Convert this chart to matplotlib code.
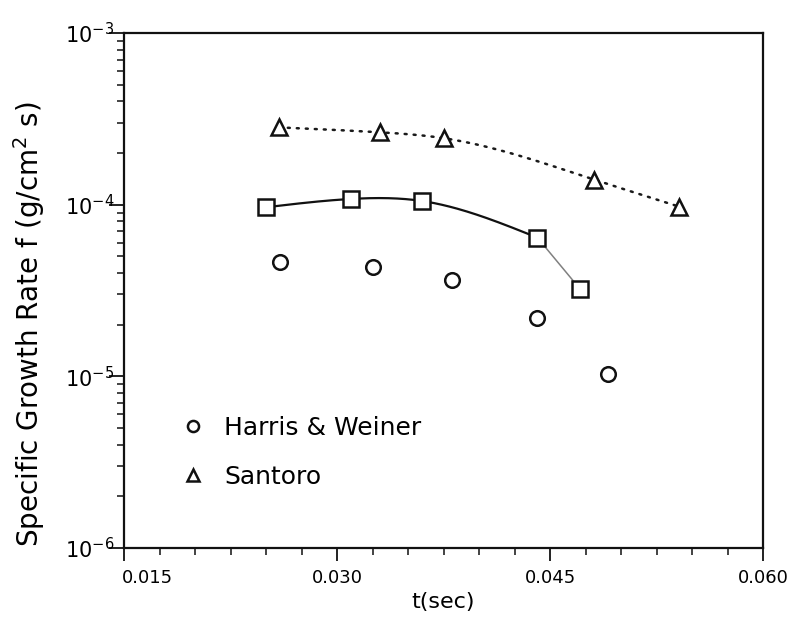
import numpy as np
import matplotlib
matplotlib.use("Agg")
import matplotlib.pyplot as plt
from matplotlib.lines import Line2D
from matplotlib.ticker import FixedLocator, LogLocator, NullFormatter
from matplotlib.transforms import ScaledTranslation

# Specific growth rate f (g/cm^2 s) versus time t (sec)
t_harris = [0.0260, 0.0325, 0.0381, 0.0441, 0.0491]
f_harris = [4.62e-5, 4.35e-5, 3.63e-5, 2.18e-5, 1.03e-5]

t_santoro = [0.0259, 0.0330, 0.0375, 0.0481, 0.0541]
f_santoro = [2.82e-4, 2.64e-4, 2.44e-4, 1.40e-4, 9.73e-5]

t_square = [0.0250, 0.0310, 0.0360, 0.0441, 0.0471]
f_square = [9.66e-5, 1.08e-4, 1.05e-4, 6.43e-5, 3.23e-5]

x_ticks = [0.015, 0.030, 0.045, 0.060]
x_ticklabels = ["0.015", "0.030", "0.045", "0.060"]
y_ticks = [1e-6, 1e-5, 1e-4, 1e-3]
y_ticklabels = [r"10$^{-6}$", r"10$^{-5}$", r"10$^{-4}$", r"10$^{-3}$"]


def natural_spline(xs, ys, n=60):
    """Natural cubic spline through the points in (x, log10 y)."""
    x = np.asarray(xs, float)
    y = np.log10(np.asarray(ys, float))
    m = len(x)
    h = np.diff(x)
    A = np.zeros((m, m))
    r = np.zeros(m)
    A[0, 0] = A[-1, -1] = 1.0
    for i in range(1, m - 1):
        A[i, i - 1] = h[i - 1]
        A[i, i] = 2 * (h[i - 1] + h[i])
        A[i, i + 1] = h[i]
        r[i] = 6 * ((y[i + 1] - y[i]) / h[i] - (y[i] - y[i - 1]) / h[i - 1])
    M = np.linalg.solve(A, r)
    xs_out, ys_out = [], []
    for i in range(m - 1):
        xx = np.linspace(x[i], x[i + 1], n)
        a = (x[i + 1] - xx) / h[i]
        b = (xx - x[i]) / h[i]
        yy = (a * y[i] + b * y[i + 1] +
              ((a ** 3 - a) * M[i] + (b ** 3 - b) * M[i + 1]) * h[i] ** 2 / 6)
        xs_out.append(xx)
        ys_out.append(10 ** yy)
    return np.concatenate(xs_out), np.concatenate(ys_out)


plt.rcParams["font.family"] = ["DejaVu Sans"]
fig = plt.figure(figsize=(8.0, 6.24), dpi=100)
ax = fig.add_axes([0.155, 0.1218, 0.799, 0.8253])
ax.set_yscale("log")
ax.set_xlim(0.015, 0.060)
ax.set_ylim(1e-6, 1e-3)

# Santoro fit: dotted
sx, sy = natural_spline(t_santoro, f_santoro)
ax.plot(sx, sy, color="#1a1a1a", lw=1.8, linestyle=(0, (0.8, 2.8)),
        dash_capstyle="round", zorder=2)

# Square series fit: solid arc through the first four points, faint tail to the last
qx, qy = natural_spline(t_square[:4], f_square[:4])
ax.plot(qx, qy, color="#111111", lw=1.6, zorder=2)
ax.plot(t_square[3:], f_square[3:], color="#808080", lw=1.1, zorder=2)

mk = dict(linestyle="none", markerfacecolor="white", markeredgecolor="#111111",
          markeredgewidth=1.8, zorder=3)
ax.plot(t_santoro, f_santoro, marker="^", markersize=12, **mk)
ax.plot(t_square, f_square, marker="s", markersize=11, **mk)
ax.plot(t_harris, f_harris, marker="o", markersize=10.5, **mk)

# Axes styling
for side in ("left", "bottom", "top", "right"):
    ax.spines[side].set_linewidth(1.6)
    ax.spines[side].set_color("#111111")

ax.xaxis.set_major_locator(FixedLocator(x_ticks))
ax.set_xticklabels(x_ticklabels)
ax.xaxis.set_minor_locator(FixedLocator(np.arange(0.015, 0.0601, 0.0025)))
ax.yaxis.set_major_locator(FixedLocator(y_ticks))
ax.set_yticklabels(y_ticklabels)
ax.yaxis.set_minor_locator(LogLocator(base=10, subs=np.arange(2, 10)))
ax.yaxis.set_minor_formatter(NullFormatter())

ax.tick_params(axis="both", which="major", direction="out", length=9,
               width=1.3, color="#111111", labelsize=13, pad=6)
ax.tick_params(axis="both", which="minor", direction="out", length=5,
               width=1.1, color="#111111")
ax.tick_params(axis="y", which="major", labelsize=15, pad=-4, length=11)
ax.tick_params(top=False, right=False, which="both")

# first x label sits to the right of its tick
first = ax.get_xticklabels()[0]
first.set_horizontalalignment("left")
first.set_transform(first.get_transform() + ScaledTranslation(-2 / 100, 0, fig.dpi_scale_trans))

ax.set_xlabel("t(sec)", fontsize=16, labelpad=4)
ax.set_ylabel("Specific Growth Rate f (g/cm$^2$ s)", fontsize=20)
ax.yaxis.set_label_coords(-0.12, 0.435)

handles = [
    Line2D([], [], marker="o", markersize=8, **mk),
    Line2D([], [], marker="^", markersize=9, **mk),
]
ax.legend(handles, ["Harris & Weiner", "Santoro"], loc="upper left",
          bbox_to_anchor=(0.088, 0.256), frameon=False, fontsize=18,
          handlelength=1.0, handletextpad=0.75, labelspacing=1.0,
          borderpad=0, borderaxespad=0)

fig.savefig("out.png", dpi=100, facecolor="white")
